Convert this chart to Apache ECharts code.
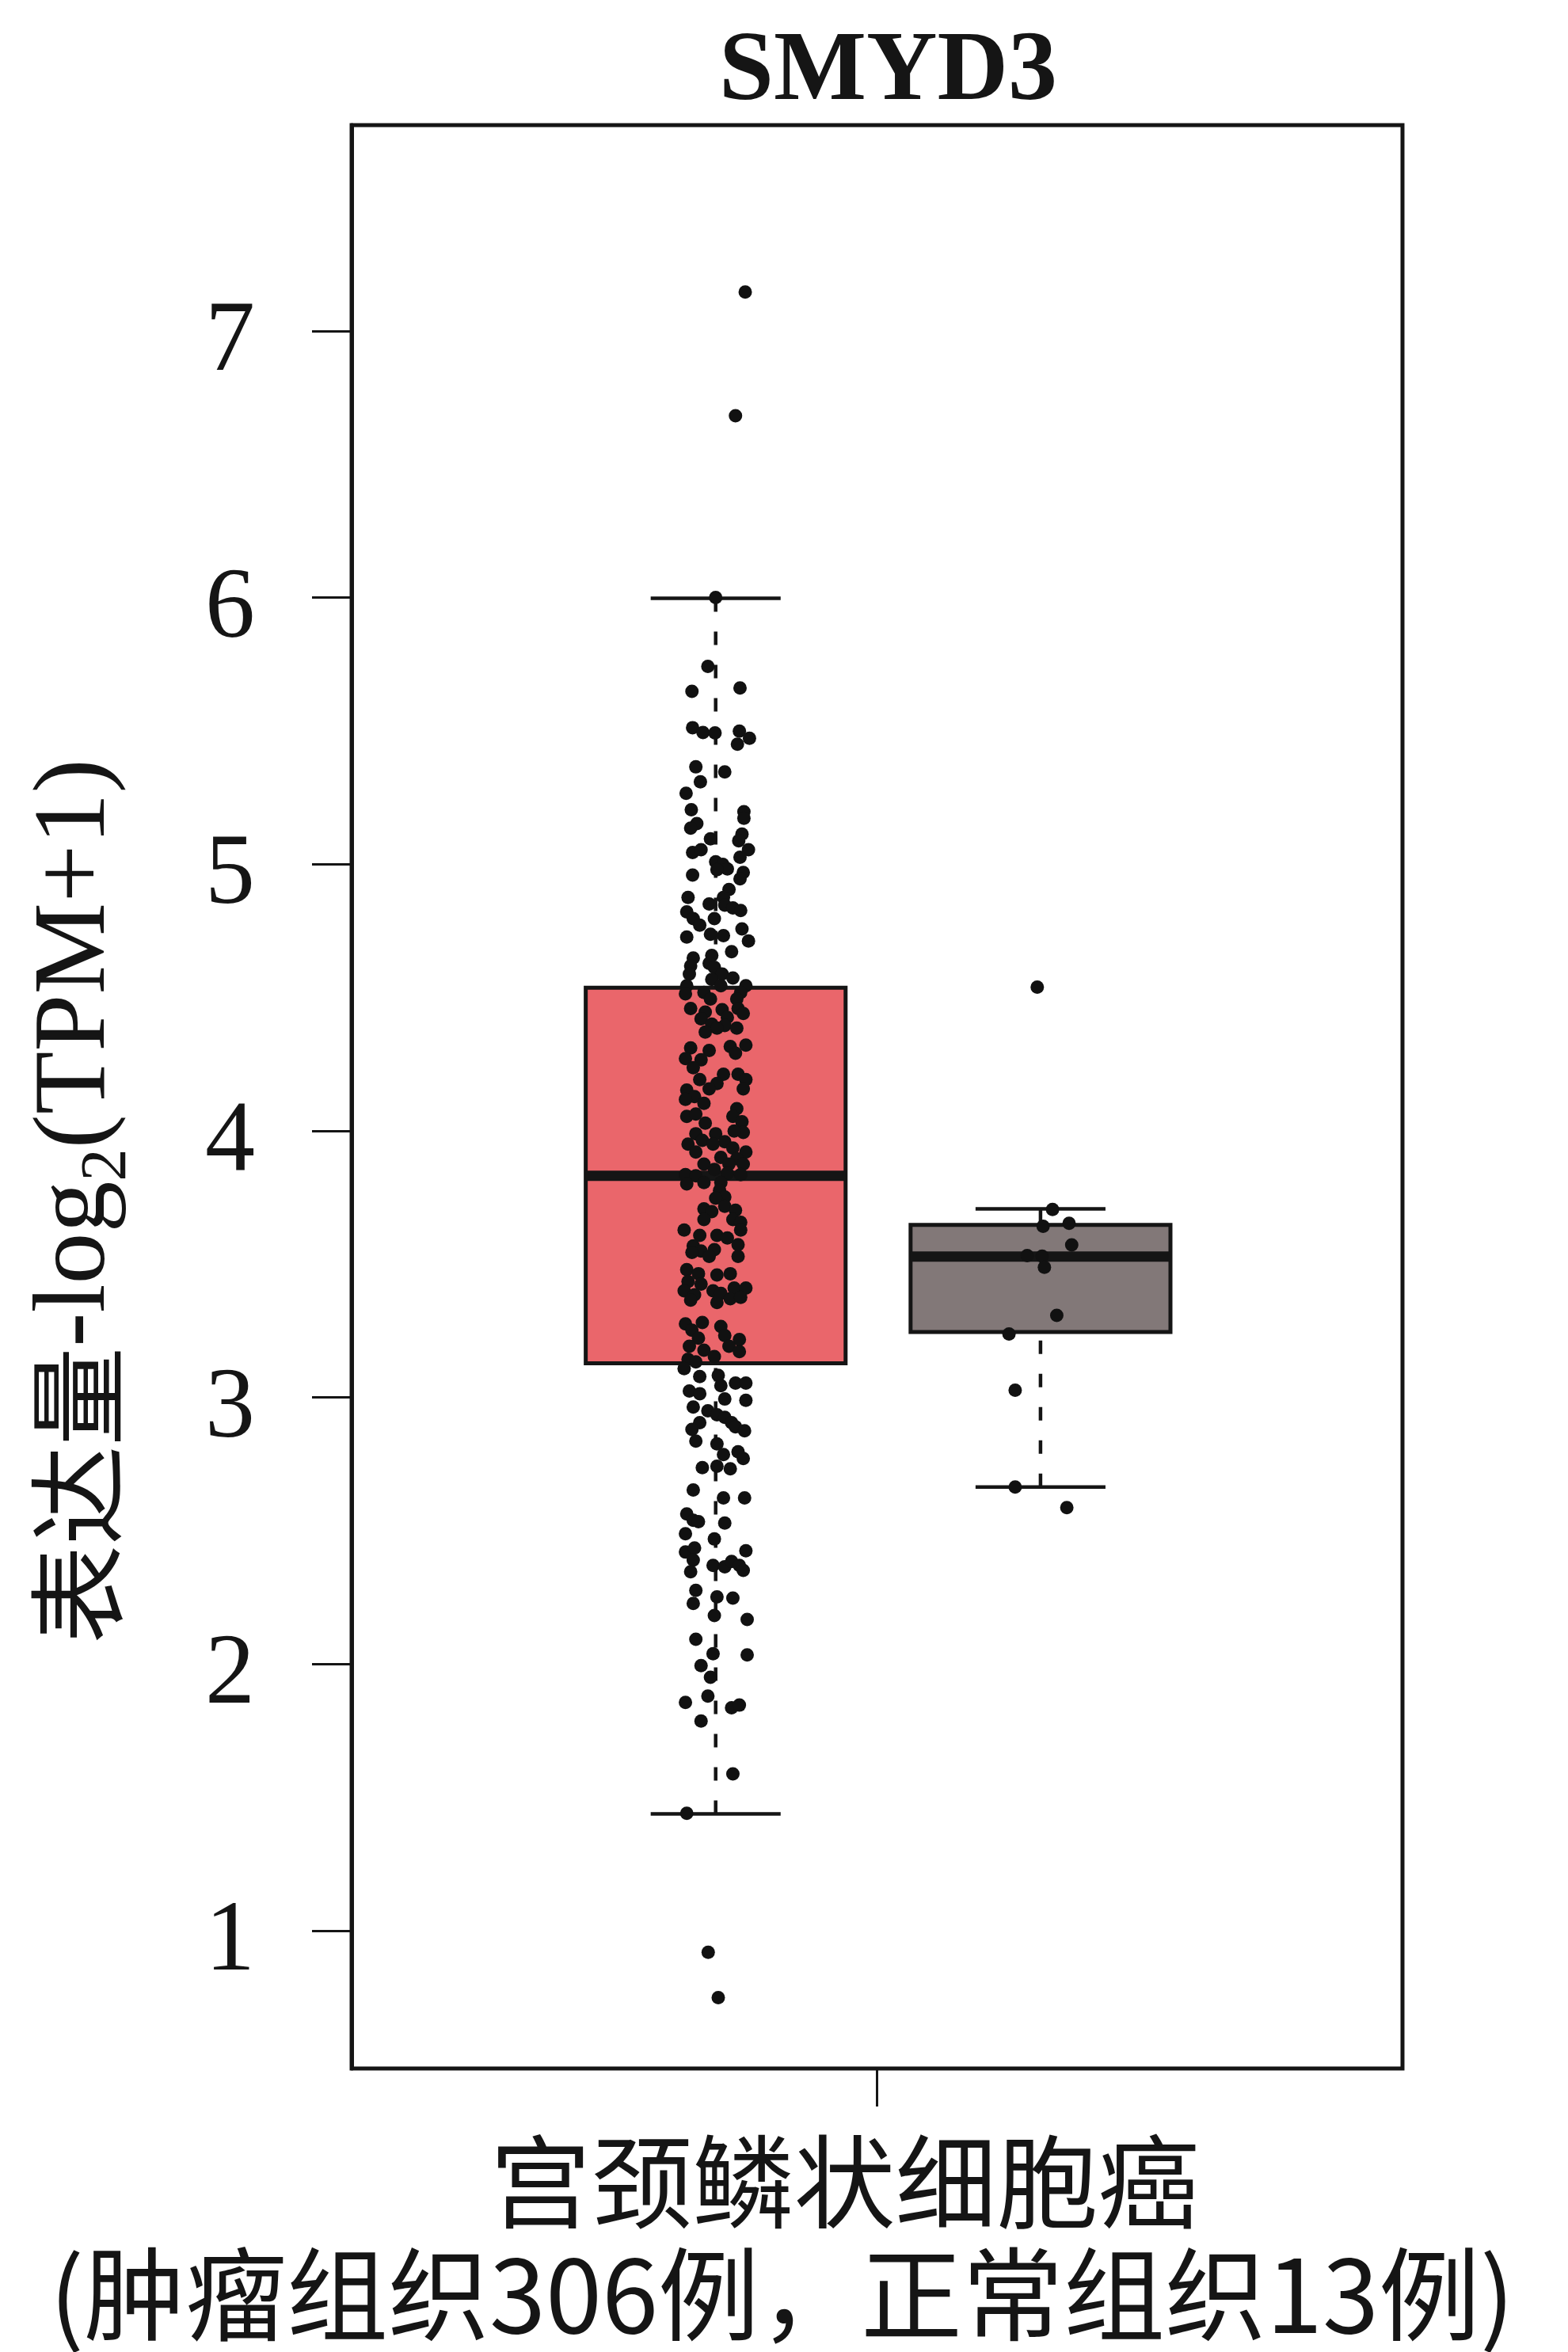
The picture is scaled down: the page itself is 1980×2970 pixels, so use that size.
<!DOCTYPE html>
<html><head><meta charset="utf-8">
<script src="https://cdn.jsdelivr.net/npm/echarts@6/dist/echarts.min.js"></script>
<style>html,body{margin:0;padding:0;background:#fff}#c{width:1980px;height:2970px}</style>
</head><body><div id="c"></div>
<script>
// ---------------- data ----------------
const geneName = 'SMYD3';
const categoryLabel = '宫颈鳞状细胞癌\n(肿瘤组织306例，正常组织13例)';
const yTicks = [1, 2, 3, 4, 5, 6, 7];
// box statistics: [lower whisker, Q1, median, Q3, upper whisker]
const tumorBox = [1.438, 3.128, 3.831, 4.537, 5.997];
const normalBox = [2.664, 3.245, 3.528, 3.647, 3.707];
// jittered points: [horizontal jitter (group units), log2(TPM+1)]
const tumorPoints = [
[0.091,7.146],[0.061,6.682],
[0,6.00],[-0.024,5.742],[-0.073,5.648],[0.075,5.661],[-0.071,5.512],[-0.039,5.494],[-0.002,5.492],[0.073,5.499],[0.104,5.472],[0.067,5.450],
[-0.061,5.365],[0.028,5.346],[-0.047,5.309],[-0.091,5.266],[-0.075,5.204],[0.087,5.197],[0.087,5.172],[-0.058,5.152],[-0.077,5.135],[-0.016,5.095],
[0.081,5.113],[0.071,5.088],[-0.071,5.044],[-0.045,5.054],[0.101,5.054],[0.075,5.026],[0,5.009],[0.022,4.999],[0.036,4.982],[0.004,4.979],
[-0.071,4.959],[0.085,4.969],[0.075,4.945],[0.041,4.905],
[-0.085,4.875],[0.024,4.875],[-0.020,4.851],[0.028,4.846],[0.053,4.836],[0.077,4.826],[-0.089,4.821],[-0.069,4.796],[-0.004,4.796],[-0.049,4.771],
[0.081,4.757],[-0.016,4.737],[0.024,4.732],[-0.089,4.727],[0.101,4.712],[0.049,4.672],[-0.069,4.648],[-0.012,4.658],[-0.077,4.618],[-0.020,4.628],
[-0.004,4.613],[0.020,4.588],[-0.081,4.588],[0.053,4.573],[-0.012,4.568],[0.093,4.544],[-0.089,4.544],[0.016,4.544],[0.077,4.519],[-0.093,4.514],
[-0.036,4.519],[-0.016,4.494],[0.065,4.494],[-0.077,4.459],[0.020,4.454],[0.069,4.459],[-0.032,4.445],[-0.045,4.420],[0.036,4.425],[0.085,4.440],
[-0.012,4.400],[0.028,4.395],[0.065,4.385],[0.004,4.385],[-0.032,4.370],[-0.077,4.311],[-0.020,4.301],[0.045,4.316],[0.093,4.321],[0.061,4.291],
[-0.093,4.271],[-0.045,4.266],[-0.069,4.237],[-0.049,4.192],[0.024,4.212],[0.069,4.212],[0.093,4.192],[0.004,4.177],[-0.020,4.157],[0.085,4.157],
[-0.089,4.153],[-0.065,4.128],[-0.036,4.103],[-0.093,4.118],[0.065,4.083],[-0.089,4.054],[-0.061,4.063],[0.053,4.054],[-0.032,4.029],[0.081,4.034],
[-0.061,3.989],[0,3.989],[0.085,3.994],[0.057,3.999],[-0.041,3.964],[-0.085,3.950],[0.028,3.959],[-0.008,3.950],[0.053,3.935],[-0.061,3.920],
[0.093,3.920],[0.016,3.900],[0.065,3.895],[-0.036,3.875],[0.085,3.875],[0.041,3.875],[-0.004,3.855],[-0.093,3.836],[-0.061,3.831],[0.036,3.841],
[0.077,3.836],[-0.089,3.801],[-0.036,3.806],[0.016,3.806],[0.012,3.776],[0.028,3.752],[0,3.747],
[-0.036,3.707],[0.028,3.717],[0.061,3.702],[-0.012,3.697],[-0.036,3.667],[0.053,3.667],[0.077,3.657],[-0.097,3.628],[-0.049,3.608],[0.004,3.608],
[0.077,3.628],[0.036,3.598],[-0.069,3.568],[-0.045,3.549],[-0.004,3.554],[0.069,3.573],[-0.073,3.544],[-0.020,3.529],[0.069,3.529],[-0.089,3.479],
[-0.053,3.464],[0.004,3.459],[0.045,3.464],[-0.085,3.435],[-0.045,3.425],[-0.097,3.400],[-0.065,3.385],[-0.008,3.400],[0.016,3.390],[0.057,3.410],
[0.093,3.410],[-0.077,3.365],[0.004,3.356],[0.045,3.370],[0.077,3.375],[-0.093,3.276],[-0.041,3.281],[-0.073,3.252],[0.016,3.266],[-0.053,3.222],
[0.028,3.232],[0.073,3.217],[-0.081,3.192],[-0.036,3.177],[0.041,3.192],[0.073,3.172],[-0.085,3.143],[-0.061,3.133],[-0.004,3.153],[-0.097,3.108],
[-0.049,3.078],[0.008,3.083],[0.016,3.044],[0.061,3.054],[0.093,3.054],[-0.081,3.024],[-0.049,3.014],[0.028,2.994],[0.093,2.989],[-0.069,2.964],
[-0.024,2.950],[0.004,2.935],[0.028,2.925],[0.049,2.905],[-0.049,2.905],[0.061,2.890],[-0.073,2.880],[0.089,2.875],[-0.061,2.836],[0.004,2.826],
[0.024,2.786],[0.069,2.796],[0.085,2.771],[-0.041,2.737],[0.004,2.742],[0.045,2.732],[-0.069,2.653],[0.024,2.623],[0.089,2.623],
[-0.089,2.563],[-0.069,2.539],[-0.053,2.534],[0.028,2.529],[-0.093,2.489],[-0.004,2.469],[0.093,2.425],[-0.093,2.420],[-0.065,2.435],[-0.069,2.390],
[-0.077,2.346],[-0.008,2.370],[0.028,2.365],[0.049,2.385],[0.073,2.370],[0.085,2.351],[-0.061,2.276],[-0.069,2.227],[0.004,2.252],[0.053,2.247],
[-0.004,2.182],[0.097,2.167],[-0.061,2.093],[-0.008,2.039],[0.097,2.034],[-0.045,1.994],[-0.016,1.950],[-0.024,1.880],[-0.093,1.856],[0.049,1.836],
[0.073,1.846],[-0.045,1.786],[0.053,1.588],[-0.089,1.440],
[-0.023,0.919],[0.008,0.749]
];
const normalPoints = [
[-0.010,4.539],[0.037,3.705],[0.088,3.653],[0.008,3.642],[0.096,3.572],[-0.041,3.532],[0.005,3.530],
[0.012,3.488],[0.050,3.308],[-0.097,3.238],[-0.078,3.027],[-0.078,2.664],[0.081,2.587]
];

// ---------------- layout / style ----------------
const GROUP_POS = [1, 2];
const BOX_WIDTH = 0.8, CAP_WIDTH = 0.4;
const INK = '#151515';
const BOX_FILLS = ['#EA666B', '#827878'];

function renderBox(params, api) {
  const pos = api.value(0);
  const lo = api.value(1), q1 = api.value(2), med = api.value(3), q3 = api.value(4), hi = api.value(5);
  const tl = api.coord([pos - BOX_WIDTH / 2, q3]);
  const br = api.coord([pos + BOX_WIDTH / 2, q1]);
  const m = api.coord([pos, med]);
  const top = api.coord([pos, hi]);
  const bot = api.coord([pos, lo]);
  const capL = api.coord([pos - CAP_WIDTH / 2, hi])[0];
  const capR = api.coord([pos + CAP_WIDTH / 2, hi])[0];
  const dash = { stroke: INK, lineWidth: 4.5, lineDash: [17, 25] };
  const solid = { stroke: INK, lineWidth: 4.5 };
  return {
    type: 'group',
    children: [
      { type: 'line', shape: { x1: top[0], y1: top[1], x2: top[0], y2: tl[1] }, style: dash },
      { type: 'line', shape: { x1: bot[0], y1: bot[1], x2: bot[0], y2: br[1] }, style: dash },
      { type: 'line', shape: { x1: capL, y1: top[1], x2: capR, y2: top[1] }, style: solid },
      { type: 'line', shape: { x1: capL, y1: bot[1], x2: capR, y2: bot[1] }, style: solid },
      { type: 'rect', shape: { x: tl[0], y: tl[1], width: br[0] - tl[0], height: br[1] - tl[1] },
        style: { fill: BOX_FILLS[params.dataIndex], stroke: INK, lineWidth: 5 } },
      { type: 'line', shape: { x1: tl[0], y1: m[1], x2: br[0], y2: m[1] }, style: { stroke: INK, lineWidth: 13 } }
    ]
  };
}

const labelFont = { fontFamily: 'Noto Sans CJK SC', fontSize: 128, lineHeight: 142, color: INK };
const tickFont = { fontFamily: 'Liberation Serif', fontSize: 126, color: INK };

const chart = echarts.init(document.getElementById('c'), null, { renderer: 'canvas', width: 1980, height: 2970 });
const option = {
  backgroundColor: '#ffffff',
  animation: false,
  title: {
    text: geneName, left: 908, top: 31, padding: 0,
    textStyle: { fontFamily: 'Liberation Serif', fontSize: 124, fontWeight: 'bold', color: INK }
  },
  grid: {
    left: 444, right: 209, top: 158, bottom: 358, show: true, borderColor: INK, borderWidth: 5,
    containLabel: false, outerBoundsMode: 'none'
  },
  xAxis: [
    {
      type: 'category', data: [categoryLabel], position: 'bottom',
      axisLine: { show: false },
      axisTick: { show: true, alignWithLabel: true, length: 48, lineStyle: { color: INK, width: 3 } },
      axisLabel: {
        margin: 72, padding: [0, 240, 0, 0], ...labelFont,
        formatter: function (v) {
          const lines = v.split('\n');
          return '{l1|' + lines[0] + '}\n{l2|' + lines[1] + '}';
        },
        rich: {
          l1: Object.assign({ padding: [0, 0, 0, 158] }, labelFont),
          l2: Object.assign({}, labelFont)
        }
      },
      splitLine: { show: false }
    },
    { type: 'value', min: -0.1207, max: 3.1143, show: false, splitLine: { show: false } }
  ],
  yAxis: {
    type: 'value', min: 0.483, max: 7.772,
    axisLine: { show: true, onZero: false, lineStyle: { color: INK, width: 5 } },
    axisTick: { show: true, length: 50, customValues: yTicks, lineStyle: { color: INK, width: 3 } },
    axisLabel: {
      customValues: yTicks, margin: 122, ...tickFont,
      formatter: function (v) { return '{d|' + v + '}'; },
      rich: { d: Object.assign({ padding: [32, 0, 0, 0] }, tickFont) }
    },
    splitLine: { show: false },
    name: '{cn|表达量}{en|-log}{sub|2}{en|(TPM+1)}',
    nameLocation: 'middle', nameRotate: 90, nameGap: 267,
    nameTextStyle: {
      padding: [0, 264, 0, 0],
      rich: {
        cn: { fontFamily: 'Noto Sans CJK SC', fontSize: 125, lineHeight: 160, color: INK },
        en: { fontFamily: 'Liberation Serif', fontSize: 130, lineHeight: 160, color: INK },
        sub: { fontFamily: 'Liberation Serif', fontSize: 82, lineHeight: 60, verticalAlign: 'bottom', color: INK }
      }
    }
  },
  series: [
    {
      type: 'custom', xAxisIndex: 1, yAxisIndex: 0, renderItem: renderBox, clip: false, z: 2,
      encode: { x: 0, y: [1, 2, 3, 4, 5] },
      data: [[GROUP_POS[0]].concat(tumorBox), [GROUP_POS[1]].concat(normalBox)]
    },
    {
      type: 'scatter', xAxisIndex: 1, yAxisIndex: 0, z: 3, symbolSize: 17, silent: true,
      itemStyle: { color: '#111111', opacity: 1 },
      data: tumorPoints.map(p => [GROUP_POS[0] + p[0], p[1]])
    },
    {
      type: 'scatter', xAxisIndex: 1, yAxisIndex: 0, z: 3, symbolSize: 17, silent: true,
      itemStyle: { color: '#111111', opacity: 1 },
      data: normalPoints.map(p => [GROUP_POS[1] + p[0], p[1]])
    }
  ]
};
chart.setOption(option);
</script>
</body></html>
